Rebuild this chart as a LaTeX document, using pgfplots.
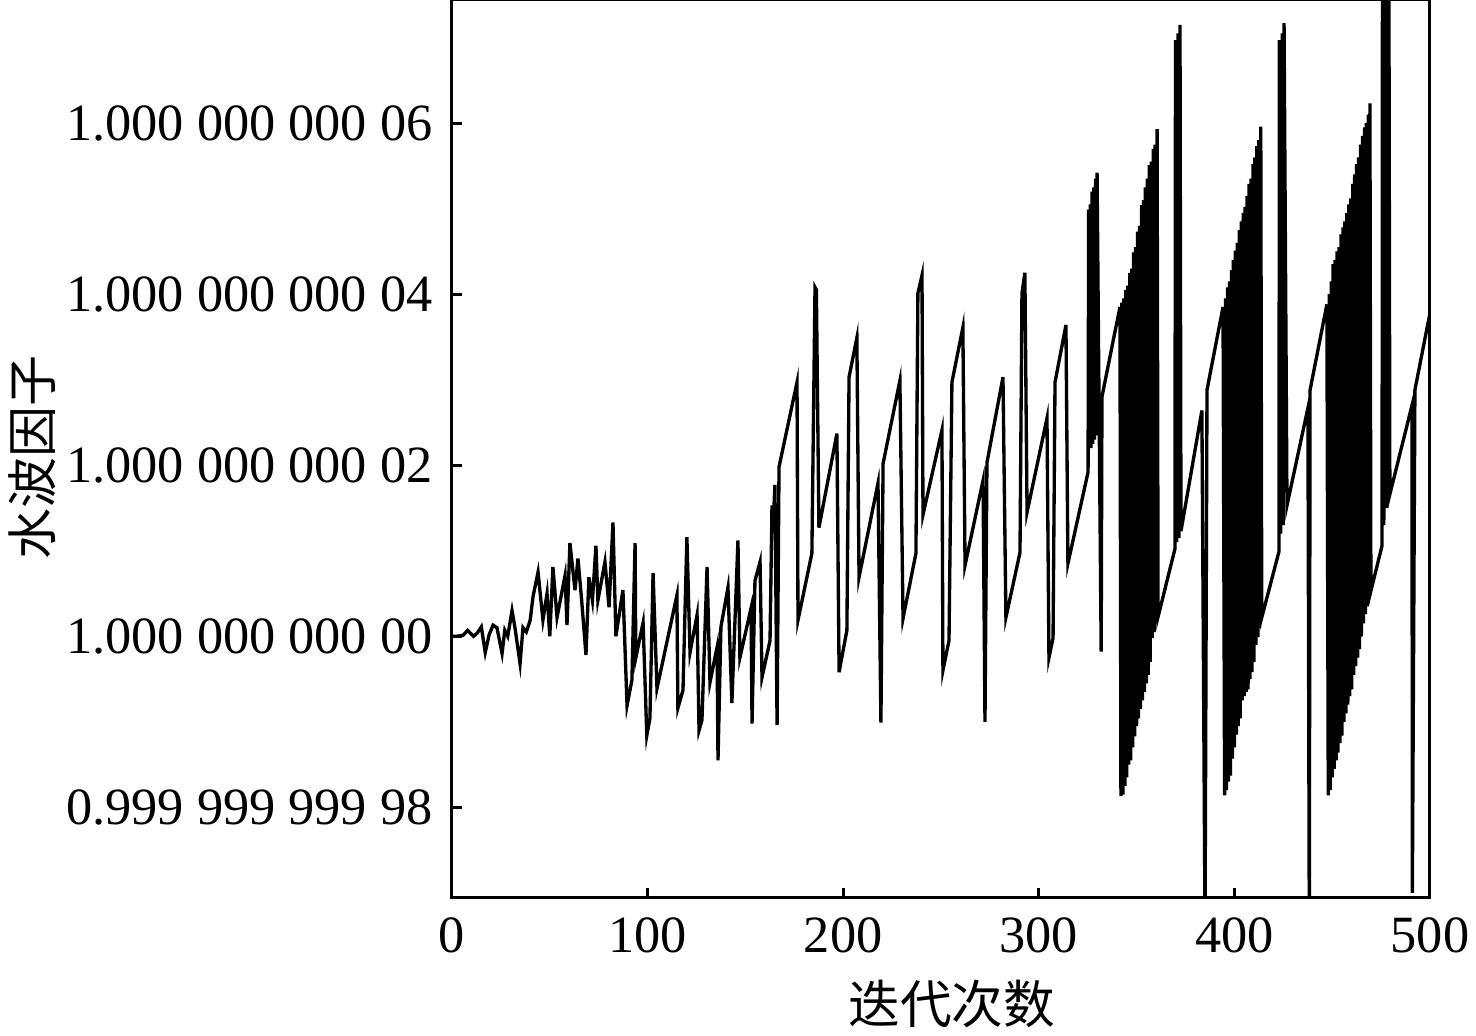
\documentclass[border=0pt]{standalone}
\usepackage{fontspec}
\setmainfont{Liberation Serif}
\newfontfamily\cjk{Noto Sans CJK SC}
\usepackage{pgfplots}
\pgfplotsset{compat=1.18}
\begin{document}
\begin{tikzpicture}
\begin{axis}[
  scale only axis, width=293.4pt, height=269.4pt,
  xmin=0, xmax=500, ymin=-3.06, ymax=7.44,
  xtick={0,100,200,300,400,500},
  xticklabels={0,100,200,300,400,500},
  ytick={-2,0,2,4,6},
  yticklabels={0.999 999 999 98,1.000 000 000 00,1.000 000 000 02,1.000 000 000 04,1.000 000 000 06},
  tick pos=left, tick align=inside, major tick length=3pt,
  axis line style={line width=0.9pt},
  every tick/.style={line width=0.9pt, black},
  ticklabel style={font=\fontsize{15.7}{17}\selectfont},
  yticklabel style={xshift=-2.3pt},
  xticklabel style={yshift=-2.4pt},
  xlabel={\cjk 迭代次数}, ylabel={\cjk 水波因子},
  xlabel style={at={(axis description cs:0.511,-0.118)}, anchor=center, font=\fontsize{15.5}{18}\selectfont},
  ylabel style={at={(axis description cs:-0.4294,0.49)}, anchor=center, font=\fontsize{15.3}{18}\selectfont},
]
\addplot[black, line width=1.0pt, mark=none] table {
x y
0 0
2 0
5.6 0.01
8 0.07
11 0.0
13 0.04
15 0.11
17 -0.19
19 0.02
21 0.13
23 0.1
25.6 -0.2
27 0.07
28.5 0.0
30.7 0.3
32.2 0.1
34.8 -0.32
36.3 0.1
38 0.05
40 0.19
41.4 0.46
44 0.75
46.5 0.19
48.6 0.5
50 0
51.6 0.81
53.7 0.22
57.8 0.71
58.8 0.13
60.3 1.09
62.9 0.54
64.4 0.91
66.3 0.42
68.5 -0.22
70 0.69
71.8 0.42
73.6 1.06
74.6 0.42
78.2 0.87
80.3 0.34
82.3 1.33
83.8 0
87.4 0.54
89.5 -0.81
92 -0.51
93.6 1.09
94 -0.25
97.7 0.16
99.6 -1.16
101.2 -0.96
102.8 0.74
104.8 -0.61
115 0.48
115.5 -0.84
118.1 -0.63
120.1 1.16
121.7 -0.19
125.3 0.25
126.3 -1.1
127.8 -0.98
130.4 0.81
131.9 -0.54
135.5 -0.13
136 -1.45
137.5 0.11
141.1 0.57
143.1 -0.78
146.2 1.12
147.2 -0.25
152.9 0.33
153.4 -1.02
154.9 0.65
157.5 0.87
158.5 -0.48
162.6 -0.05
163.6 1.53
164.3 1.35
165.1 1.77
166.2 -1.04
167.2 1.98
176.4 2.97
176.9 0.19
184 0.97
185.6 4.08
186.3 4.05
187.6 1.27
196.8 2.37
197.9 -0.42
201.9 0.07
203 3.03
207 3.49
208.1 0.69
217.8 1.79
219.3 -1.01
220.4 2.02
229 2.99
230.6 0.21
237.2 0.97
238.2 4.01
240.3 4.22
240.8 1.42
250.5 2.41
251 -0.4
254.1 -0.05
255.6 2.97
261.2 3.61
262.3 0.83
271.5 1.82
272.5 -1.0
273.5 2.03
281.7 3.03
283.2 0.22
290.4 0.98
291.4 4.01
292.9 4.25
294 1.45
304.2 2.55
305.2 -0.25
307.3 -0.02
308.3 2.97
313.9 3.64
314.9 0.85
325.2 1.92
325.5 4.99
325.8 2.2
326.3 5.05
326.7 2.2
327.2 5.2
327.6 2.25
328.1 5.25
328.5 2.3
329.0 5.35
329.4 2.35
329.8 5.42
331.9 -0.18
332.3 2.8
341.5 3.85
342.0 -1.87
342.5 3.9
343.0 -1.85
343.5 3.95
344.0 -1.75
344.5 4.05
345.0 -1.65
345.5 4.1
346.0 -1.5
346.5 4.25
347.0 -1.45
347.5 4.3
348.0 -1.3
348.5 4.49
349.0 -1.17
349.5 4.55
350.0 -1.05
350.5 4.73
351.0 -0.96
351.5 4.8
352.0 -0.85
352.5 5.04
353.0 -0.75
353.5 5.1
354.0 -0.65
354.5 5.25
355.0 -0.55
355.5 5.35
356.0 -0.45
356.5 5.51
357.0 -0.3
357.5 5.55
358.0 -0.02
358.5 5.7
359.0 0.05
359.5 5.75
360.0 0.15
360.5 5.93
361.0 0.23
369.6 1.02
369.9 6.97
370.5 1.1
371.2 7.05
371.7 1.15
372.2 7.15
372.7 1.23
383.4 2.64
385 -3.4
386 2.88
394.2 3.85
395.0 -1.86
395.5 3.95
396.0 -1.8
396.5 4.08
397.0 -1.7
397.5 4.15
398.0 -1.63
398.5 4.28
399.0 -1.43
399.5 4.4
400.0 -1.3
400.5 4.51
401.0 -1.15
401.5 4.6
402.0 -1.05
402.5 4.75
403.0 -0.96
403.5 4.85
404.0 -0.75
404.5 4.95
405.0 -0.7
405.5 5.02
406.0 -0.65
406.5 5.15
407.0 -0.62
407.5 5.29
408.0 -0.5
408.5 5.35
409.0 -0.42
409.5 5.52
410.0 -0.3
410.5 5.6
411.0 -0.1
411.5 5.73
412.0 -0.01
412.5 5.8
413.0 0.1
413.5 5.96
414.0 0.22
422.8 0.99
423 6.97
423.7 1.2
424.5 7.05
425.0 1.3
425.4 7.17
426.9 1.53
437.6 2.67
438.3 -3.4
438.7 2.88
447.3 3.88
448.0 -1.86
448.5 4.0
449.0 -1.8
449.5 4.15
450.0 -1.65
450.5 4.35
451.0 -1.55
451.5 4.4
452.0 -1.45
452.5 4.5
453.0 -1.36
453.5 4.55
454.0 -1.25
454.5 4.7
455.0 -1.16
455.5 4.78
456.0 -1.0
456.5 4.85
457.0 -0.9
457.5 4.95
458.0 -0.8
458.5 5.05
459.0 -0.7
459.5 5.12
460.0 -0.62
460.5 5.29
461.0 -0.45
461.5 5.4
462.0 -0.35
462.5 5.52
463.0 -0.25
463.5 5.6
464.0 -0.15
464.5 5.75
465.0 0.0
465.5 5.85
466.0 0.15
466.5 5.95
467.0 0.26
467.5 6.0
468.0 0.35
468.5 6.1
469.0 0.45
469.3 6.23
469.8 0.53
475.5 1.06
475.7 7.7
476.4 1.3
477.3 7.75
478.0 1.5
479 7.8
479.5 1.66
490.8 2.7
491 -3.0
492.3 2.88
500 3.78
};
\end{axis}
\pgfresetboundingbox
\useasboundingbox (-135.6pt,-41.4pt) rectangle (307.2pt,269.4pt);
\end{tikzpicture}
\end{document}
